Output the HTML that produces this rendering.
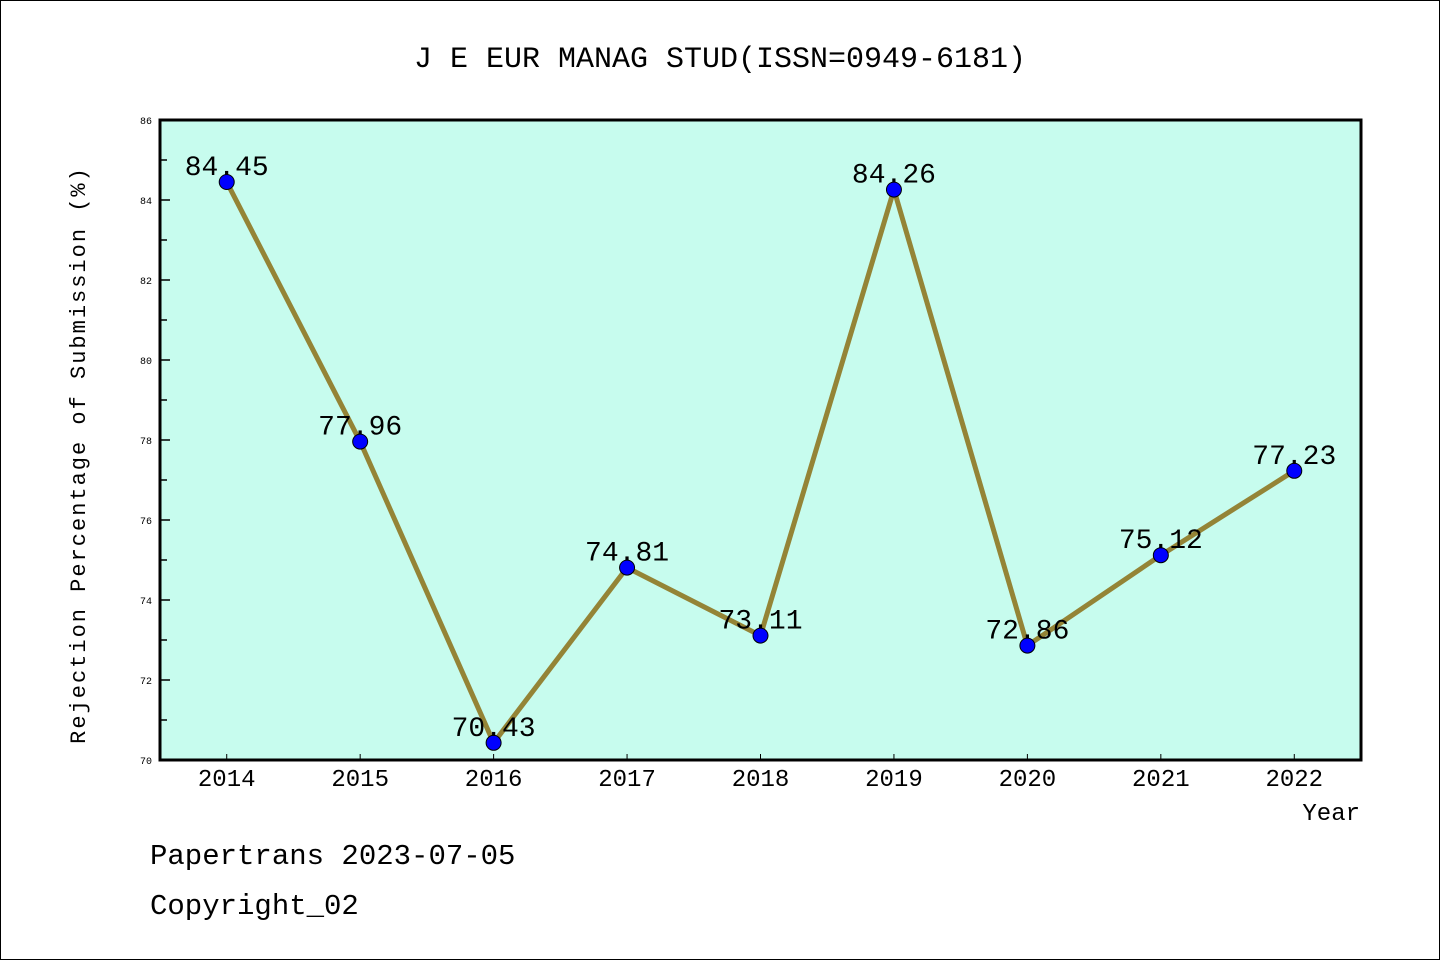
<!DOCTYPE html>
<html><head><meta charset="utf-8"><style>
html,body{margin:0;padding:0;background:#fff;}
svg{display:block;font-family:"WenQuanYi Zen Hei Mono","WenQuanYi Zen Hei","Liberation Mono",monospace;}
</style></head><body>
<svg id="chart" width="1440" height="960" viewBox="0 0 1440 960" xmlns="http://www.w3.org/2000/svg">
<rect x="0.5" y="0.5" width="1439" height="959" fill="#fff" stroke="#000" stroke-width="1"/>
<text x="720" y="67" text-anchor="middle" font-size="30" fill="#000">J E EUR MANAG STUD(ISSN=0949-6181)</text>
<rect x="160" y="120" width="1201" height="640" fill="#c7fcee"/>
<g id="yticks"></g>
<g id="xticks"></g>
<g id="series"></g>
<rect x="160" y="120" width="1201" height="640" fill="none" stroke="#000" stroke-width="3"/>
<text transform="translate(85,455) rotate(-90)" text-anchor="middle" font-size="22" letter-spacing="2" fill="#000">Rejection Percentage of Submission (%)</text>
<text x="1360" y="820" text-anchor="end" font-size="24" fill="#000">Year</text>
<text x="150" y="864" font-size="29" fill="#000">Papertrans 2023-07-05</text>
<text x="150" y="914" font-size="29" fill="#000">Copyright_02</text>
</svg>
<script>
const years = ["2014","2015","2016","2017","2018","2019","2020","2021","2022"];
const values = [84.45,77.96,70.43,74.81,73.11,84.26,72.86,75.12,77.23];
const labels = ["84.45","77.96","70.43","74.81","73.11","84.26","72.86","75.12","77.23"];
const yTicks = [70,72,74,76,78,80,82,84,86];
const yMin = 70, yMax = 86;
const NS = "http://www.w3.org/2000/svg";
const L = 160, R = 1361, T = 120, B = 760;
function xs(i){ const step = (R-L)/years.length; return L + step*(i+0.5); }
function ys(v){ return B - (v-yMin)/(yMax-yMin)*(B-T); }
function mk(tag, attrs, parent){ const e=document.createElementNS(NS,tag); for(const k in attrs) e.setAttribute(k,attrs[k]); parent.appendChild(e); return e; }
const yg=document.getElementById('yticks'), xg=document.getElementById('xticks'), sg=document.getElementById('series');
for(let v=yMin; v<=yMax; v++){
  const major = yTicks.includes(v);
  const t = mk('line',{x1:L,x2:L+(major?10:7),y1:ys(v),y2:ys(v),stroke:'#000','stroke-width':1.5},yg);
  
  
}
yTicks.forEach(v=>{
  const t = mk('text',{x:L-8,y:ys(v)+4,'text-anchor':'end','font-size':10,fill:'#000'},yg);
  t.textContent = v;
  
  
});
years.forEach((yr,i)=>{
  const t = mk('line',{x1:xs(i),x2:xs(i),y1:B,y2:B-6,stroke:'#000','stroke-width':1},xg);
  
  
  const l = mk('text',{x:xs(i),y:B+26,'text-anchor':'middle','font-size':24,fill:'#000'},xg);
  l.textContent = yr;
  
  
});
const pts = values.map((v,i)=>xs(i)+','+ys(v)).join(' ');
const line = mk('polyline',{points:pts,fill:'none',stroke:'#948436','stroke-width':5,'stroke-linejoin':'round'},sg);


values.forEach((v,i)=>{
  const c = mk('circle',{cx:xs(i),cy:ys(v),r:7.5,fill:'#0000ff',stroke:'#000','stroke-width':1},sg);
  
  
  const t = mk('text',{x:xs(i),y:ys(v)-7,'text-anchor':'middle','font-size':28,fill:'#000'},sg);
  t.textContent = labels[i];
  
  
});
</script>
</body></html>
